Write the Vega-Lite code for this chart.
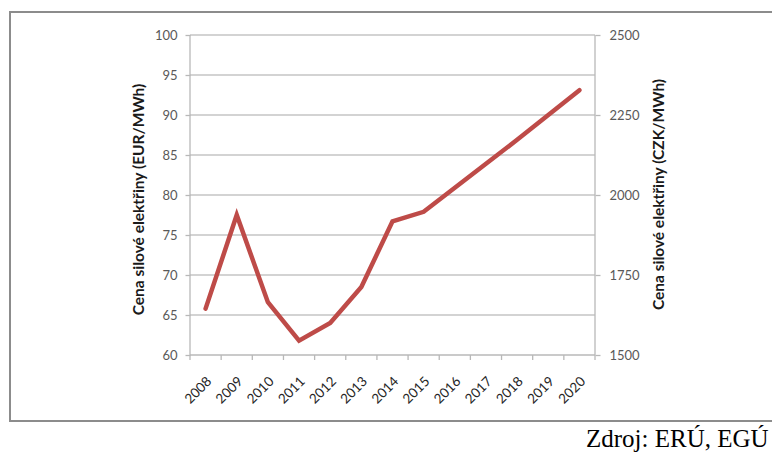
{
  "$schema": "https://vega.github.io/schema/vega-lite/v6.json",
  "width": 762,
  "height": 409,
  "autosize": {"type": "none"},
  "padding": {"left": 10, "top": 12, "right": 0, "bottom": 31},
  "background": "white",
  "config": {
    "view": {"stroke": null},
    "font": "Lato"
  },
  "title": {
    "text": "Zdroj: ERÚ, EGÚ",
    "orient": "bottom",
    "anchor": "start",
    "frame": "group",
    "font": "Liberation Serif",
    "fontSize": 25,
    "fontWeight": "normal",
    "color": "#000000",
    "dx": 576,
    "offset": 5
  },
  "layer": [
    {"data": {"values": [{"m": 1}]}, "mark": {"type": "rule", "color": "#c4c4c4", "strokeWidth": 1.3},
     "encoding": {"x": {"datum": 2007.5, "type": "quantitative", "scale": {"domain": [2001.7222, 2026.1815], "nice": false, "zero": false}, "axis": null}, "x2": {"datum": 2020.5}, "y": {"datum": 100, "type": "quantitative", "scale": {"domain": [51.75, 102.875], "nice": false, "zero": false}, "axis": null}}},
    {"data": {"values": [{"m": 1}]}, "mark": {"type": "rule", "color": "#c4c4c4", "strokeWidth": 1.3},
     "encoding": {"x": {"datum": 2007.5, "type": "quantitative", "axis": null}, "x2": {"datum": 2020.5}, "y": {"datum": 95, "type": "quantitative", "axis": null}}},
    {"data": {"values": [{"m": 1}]}, "mark": {"type": "rule", "color": "#c4c4c4", "strokeWidth": 1.3},
     "encoding": {"x": {"datum": 2007.5, "type": "quantitative", "axis": null}, "x2": {"datum": 2020.5}, "y": {"datum": 90, "type": "quantitative", "axis": null}}},
    {"data": {"values": [{"m": 1}]}, "mark": {"type": "rule", "color": "#c4c4c4", "strokeWidth": 1.3},
     "encoding": {"x": {"datum": 2007.5, "type": "quantitative", "axis": null}, "x2": {"datum": 2020.5}, "y": {"datum": 85, "type": "quantitative", "axis": null}}},
    {"data": {"values": [{"m": 1}]}, "mark": {"type": "rule", "color": "#c4c4c4", "strokeWidth": 1.3},
     "encoding": {"x": {"datum": 2007.5, "type": "quantitative", "axis": null}, "x2": {"datum": 2020.5}, "y": {"datum": 80, "type": "quantitative", "axis": null}}},
    {"data": {"values": [{"m": 1}]}, "mark": {"type": "rule", "color": "#c4c4c4", "strokeWidth": 1.3},
     "encoding": {"x": {"datum": 2007.5, "type": "quantitative", "axis": null}, "x2": {"datum": 2020.5}, "y": {"datum": 75, "type": "quantitative", "axis": null}}},
    {"data": {"values": [{"m": 1}]}, "mark": {"type": "rule", "color": "#c4c4c4", "strokeWidth": 1.3},
     "encoding": {"x": {"datum": 2007.5, "type": "quantitative", "axis": null}, "x2": {"datum": 2020.5}, "y": {"datum": 70, "type": "quantitative", "axis": null}}},
    {"data": {"values": [{"m": 1}]}, "mark": {"type": "rule", "color": "#c4c4c4", "strokeWidth": 1.3},
     "encoding": {"x": {"datum": 2007.5, "type": "quantitative", "axis": null}, "x2": {"datum": 2020.5}, "y": {"datum": 65, "type": "quantitative", "axis": null}}},
    {"data": {"values": [{"m": 1}]}, "mark": {"type": "rule", "color": "#b8b8b8", "strokeWidth": 1.3},
     "encoding": {"x": {"datum": 2007.5, "type": "quantitative", "axis": null}, "x2": {"datum": 2020.5}, "y": {"datum": 60, "type": "quantitative", "axis": null}}},
    {"data": {"values": [{"m": 1}]}, "mark": {"type": "rule", "color": "#b8b8b8", "strokeWidth": 1.3},
     "encoding": {"x": {"datum": 2007.5, "type": "quantitative", "axis": null}, "y": {"datum": 59.375, "type": "quantitative", "axis": null}, "y2": {"datum": 100}}},
    {"data": {"values": [{"m": 1}]}, "mark": {"type": "rule", "color": "#b8b8b8", "strokeWidth": 1.3},
     "encoding": {"x": {"datum": 2020.5, "type": "quantitative", "axis": null}, "y": {"datum": 59.375, "type": "quantitative", "axis": null}, "y2": {"datum": 100}}},
    {"data": {"values": [{"m": 1}]}, "mark": {"type": "rule", "color": "#b8b8b8", "strokeWidth": 1.3},
     "encoding": {"x": {"datum": 2008.5, "type": "quantitative", "axis": null}, "y": {"datum": 59.375, "type": "quantitative", "axis": null}, "y2": {"datum": 60}}},
    {"data": {"values": [{"m": 1}]}, "mark": {"type": "rule", "color": "#b8b8b8", "strokeWidth": 1.3},
     "encoding": {"x": {"datum": 2009.5, "type": "quantitative", "axis": null}, "y": {"datum": 59.375, "type": "quantitative", "axis": null}, "y2": {"datum": 60}}},
    {"data": {"values": [{"m": 1}]}, "mark": {"type": "rule", "color": "#b8b8b8", "strokeWidth": 1.3},
     "encoding": {"x": {"datum": 2010.5, "type": "quantitative", "axis": null}, "y": {"datum": 59.375, "type": "quantitative", "axis": null}, "y2": {"datum": 60}}},
    {"data": {"values": [{"m": 1}]}, "mark": {"type": "rule", "color": "#b8b8b8", "strokeWidth": 1.3},
     "encoding": {"x": {"datum": 2011.5, "type": "quantitative", "axis": null}, "y": {"datum": 59.375, "type": "quantitative", "axis": null}, "y2": {"datum": 60}}},
    {"data": {"values": [{"m": 1}]}, "mark": {"type": "rule", "color": "#b8b8b8", "strokeWidth": 1.3},
     "encoding": {"x": {"datum": 2012.5, "type": "quantitative", "axis": null}, "y": {"datum": 59.375, "type": "quantitative", "axis": null}, "y2": {"datum": 60}}},
    {"data": {"values": [{"m": 1}]}, "mark": {"type": "rule", "color": "#b8b8b8", "strokeWidth": 1.3},
     "encoding": {"x": {"datum": 2013.5, "type": "quantitative", "axis": null}, "y": {"datum": 59.375, "type": "quantitative", "axis": null}, "y2": {"datum": 60}}},
    {"data": {"values": [{"m": 1}]}, "mark": {"type": "rule", "color": "#b8b8b8", "strokeWidth": 1.3},
     "encoding": {"x": {"datum": 2014.5, "type": "quantitative", "axis": null}, "y": {"datum": 59.375, "type": "quantitative", "axis": null}, "y2": {"datum": 60}}},
    {"data": {"values": [{"m": 1}]}, "mark": {"type": "rule", "color": "#b8b8b8", "strokeWidth": 1.3},
     "encoding": {"x": {"datum": 2015.5, "type": "quantitative", "axis": null}, "y": {"datum": 59.375, "type": "quantitative", "axis": null}, "y2": {"datum": 60}}},
    {"data": {"values": [{"m": 1}]}, "mark": {"type": "rule", "color": "#b8b8b8", "strokeWidth": 1.3},
     "encoding": {"x": {"datum": 2016.5, "type": "quantitative", "axis": null}, "y": {"datum": 59.375, "type": "quantitative", "axis": null}, "y2": {"datum": 60}}},
    {"data": {"values": [{"m": 1}]}, "mark": {"type": "rule", "color": "#b8b8b8", "strokeWidth": 1.3},
     "encoding": {"x": {"datum": 2017.5, "type": "quantitative", "axis": null}, "y": {"datum": 59.375, "type": "quantitative", "axis": null}, "y2": {"datum": 60}}},
    {"data": {"values": [{"m": 1}]}, "mark": {"type": "rule", "color": "#b8b8b8", "strokeWidth": 1.3},
     "encoding": {"x": {"datum": 2018.5, "type": "quantitative", "axis": null}, "y": {"datum": 59.375, "type": "quantitative", "axis": null}, "y2": {"datum": 60}}},
    {"data": {"values": [{"m": 1}]}, "mark": {"type": "rule", "color": "#b8b8b8", "strokeWidth": 1.3},
     "encoding": {"x": {"datum": 2019.5, "type": "quantitative", "axis": null}, "y": {"datum": 59.375, "type": "quantitative", "axis": null}, "y2": {"datum": 60}}},
    {
      "data": {"values": [
        {"rok": 2008, "eur": 65.8},
        {"rok": 2009, "eur": 77.5},
        {"rok": 2010, "eur": 66.6},
        {"rok": 2011, "eur": 61.8},
        {"rok": 2012, "eur": 64.0},
        {"rok": 2013, "eur": 68.5},
        {"rok": 2014, "eur": 76.7},
        {"rok": 2015, "eur": 77.9},
        {"rok": 2016, "eur": 80.9},
        {"rok": 2017, "eur": 83.9},
        {"rok": 2018, "eur": 86.9},
        {"rok": 2019, "eur": 90.0},
        {"rok": 2020, "eur": 93.1}
      ]},
      "mark": {"type": "line", "color": "#be4b48", "strokeWidth": 4.5, "strokeCap": "round"},
      "encoding": {
        "x": {"field": "rok", "type": "quantitative", "scale": {"domain": [2001.7222, 2026.1815], "nice": false, "zero": false}, "axis": null},
        "y": {
          "field": "eur",
          "type": "quantitative",
          "scale": {"domain": [51.75, 102.875], "nice": false, "zero": false},
          "axis": {
            "orient": "left",
            "offset": -180,
            "values": [60, 65, 70, 75, 80, 85, 90, 95, 100],
            "domain": false,
            "grid": false,
            "ticks": true,
            "tickSize": 5,
            "tickColor": "#b8b8b8",
            "tickWidth": 1.3,
            "labelPadding": 8,
            "labelFont": "Lato",
            "labelFontSize": 13,
            "labelColor": "#595959",
            "title": "Cena silové elektřiny (EUR/MWh)",
            "titleFont": "Lato",
            "titleFontSize": 15.5,
            "titleFontWeight": "bold",
            "titleColor": "#1a1a1a",
            "titleY": 187,
            "titlePadding": 8
          }
        }
      }
    },
    {
      "data": {"values": [
        {"rok": 2008}, {"rok": 2009}, {"rok": 2010}, {"rok": 2011}, {"rok": 2012},
        {"rok": 2013}, {"rok": 2014}, {"rok": 2015}, {"rok": 2016}, {"rok": 2017},
        {"rok": 2018}, {"rok": 2019}, {"rok": 2020}
      ]},
      "mark": {"type": "text", "angle": 315, "align": "right", "baseline": "middle", "font": "Lato", "fontSize": 13.5, "color": "#262626", "dx": 2.8, "dy": 2.8},
      "encoding": {
        "x": {"field": "rok", "type": "quantitative", "axis": null},
        "y": {"datum": 56.94, "type": "quantitative", "axis": null},
        "text": {"field": "rok", "type": "nominal"}
      }
    },
    {
      "data": {"values": [{"eur": 60}]},
      "mark": {"type": "rule", "opacity": 0},
      "encoding": {
        "y": {
          "field": "eur",
          "type": "quantitative",
          "axis": {
            "orient": "right",
            "offset": -177,
            "values": [60, 70, 80, 90, 100],
            "labelExpr": "format(datum.value * 25, 'd')",
            "domain": false,
            "grid": false,
            "ticks": true,
            "tickSize": 5,
            "tickColor": "#b8b8b8",
            "tickWidth": 1.3,
            "labelPadding": 9,
            "labelFont": "Lato",
            "labelFontSize": 13,
            "labelColor": "#595959",
            "title": "Cena silové elektřiny (CZK/MWh)",
            "titleFont": "Lato",
            "titleFontSize": 15.5,
            "titleFontWeight": "bold",
            "titleColor": "#1a1a1a",
            "titleAngle": -90,
            "titleBaseline": "top",
            "titleY": 182,
            "titlePadding": 12
          }
        }
      }
    },
    {
      "data": {"values": [{"m": 1}]},
      "mark": {"type": "rect", "filled": false, "stroke": "#8c8c8c", "strokeWidth": 2},
      "encoding": {
        "x": {"datum": 2001.7222, "type": "quantitative", "axis": null},
        "x2": {"datum": 2027.5},
        "y": {"datum": 102.875, "type": "quantitative", "axis": null},
        "y2": {"datum": 51.75}
      }
    }
  ],
  "resolve": {"axis": {"y": "independent"}}
}
